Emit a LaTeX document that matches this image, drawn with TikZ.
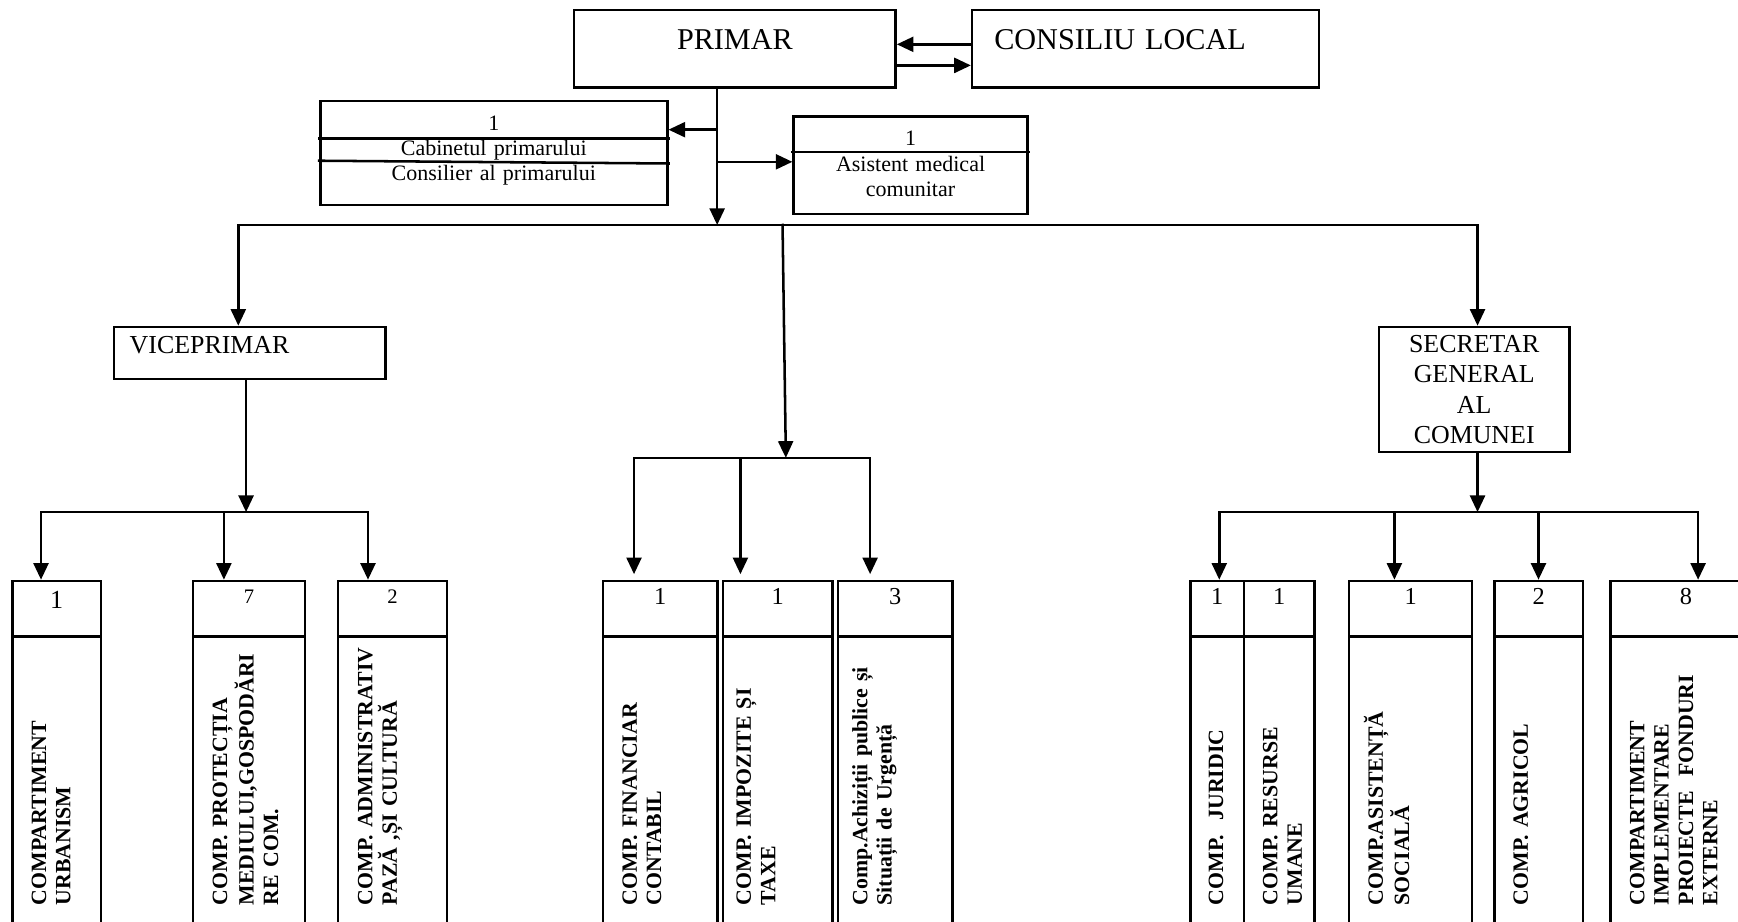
\documentclass[tikz,border=0pt]{standalone}
\usepackage{fontspec}
\setmainfont{Liberation Serif}
\usetikzlibrary{arrows.meta}

\tikzset{
	box/.style = {draw, line width=1.3pt, inner sep=0pt, align=center},
	head/.style = {box, font=\fontsize{15.5}{18}\selectfont, text height=0.72cm, text depth=0.68cm},
	chief/.style = {box, font=\fontsize{13.3}{15.7}\selectfont},
	small/.style = {box, font=\fontsize{11.3}{13}\selectfont},
	unit/.style = {box, anchor=north west, text height=0.42cm, text depth=7.1cm, font=\fontsize{12.5}{14}\selectfont,
		path picture={\draw[line width=1.3pt] ([yshift=-1cm]path picture bounding box.north west) -- ([yshift=-1cm]path picture bounding box.north east);}},
	vtext/.style = {rotate=90, anchor=base west, inner sep=0pt, text width=6cm, align=left, font=\bfseries\fontsize{11.2}{12.5}\selectfont},
	link/.style = {line width=1.3pt, line cap=rect},
	arr/.style = {link, -{Triangle[length=0.3cm, width=0.27cm]}}
}

\begin{document}
\begin{tikzpicture}[x=0.02cm, y=-0.02cm]
	\useasboundingbox (0,0) rectangle (1568,831);
	\clip (0,0) rectangle (1568,831);

	\node[head, text width=5.8cm] (primar) at (663,44) {PRIMAR};
	\node[head, text width=5.46cm, inner xsep=0.4cm, align=left] (cons) at (1033.5,44) {CONSILIU LOCAL};
	\node[small, text width=6.26cm, text height=0.53cm, text depth=1.35cm] (cab) at (445.5,138) {1\\Cabinetul primarului\\Consilier al primarului};
	\node[small, text width=4.22cm, text height=0.53cm, text depth=1.23cm] (asist) at (821.5,149) {1\\Asistent medical\\comunitar};
	\node[chief, text width=4.34cm, inner xsep=0.28cm, align=left, text height=0.47cm, text depth=0.47cm] (vice) at (225.5,318.5) {VICEPRIMAR};
	\node[chief, text width=3.44cm, minimum height=2.26cm] (secr) at (1330,351.5) {SECRETAR\\GENERAL\\AL\\COMUNEI};

	\node[unit, text width=1.6cm, text height=0.5cm, font=\fontsize{13.4}{15}\selectfont] (urb) at (10,523) {1};
	\node[unit, text width=2.02cm, text height=0.4cm, font=\fontsize{10.6}{12}\selectfont] (prot) at (173,523) {7};
	\node[unit, text width=1.96cm, text height=0.4cm, font=\fontsize{10.6}{12}\selectfont] (adm) at (304,523) {2};
	\node[unit, text width=2.06cm] (fin) at (543,523) {1};
	\node[unit, text width=1.98cm] (tax) at (651,523) {1};
	\node[unit, text width=2.06cm] (achiz) at (755,523) {3};
	\node[unit, text width=0.96cm] (jur) at (1073,523) {1};
	\node[unit, text width=1.28cm] (rum) at (1121,523) {1};
	\node[unit, text width=2.22cm] (soc) at (1216,523) {1};
	\node[unit, text width=1.6cm] (agr) at (1347,523) {2};
	\node[unit, text width=2.72cm] (fond) at (1452,523) {8};

	\node[vtext] (urbt) at (41.5,817) {COMPARTIMENT\\URBANISM};
	\node[vtext] (prott) at (205,817) {COMP. PROTECȚIA\\MEDIULUI,GOSPODĂRI\\RE COM.};
	\node[vtext] (admt) at (336,817) {COMP. ADMINISTRATIV\\PAZĂ ,ȘI CULTURĂ};
	\node[vtext] (fint) at (574.5,817) {COMP. FINANCIAR\\CONTABIL};
	\node[vtext] (taxt) at (677.5,817) {COMP. IMPOZITE ȘI\\TAXE};
	\node[vtext] (achizt) at (782.5,817) {Comp.Achiziții publice și\\Situații de Urgență};
	\node[vtext] (jurt) at (1103.5,817) {COMP.~~JURIDIC};
	\node[vtext] (rumt) at (1152.5,817) {COMP. RESURSE\\UMANE};
	\node[vtext] (soct) at (1247.5,817) {COMP.ASISTENȚĂ\\SOCIALĂ};
	\node[vtext] (agrt) at (1378.5,817) {COMP. AGRICOL};
	\node[vtext] (fondt) at (1483.5,817) {COMPARTIMENT\\IMPLEMENTARE\\PROIECTE~~FONDURI\\EXTERNE};

	\draw[link] (cab.west |- 0,125) -- (cab.east |- 0,125);
	\draw[link] (cab.west |- 0,145) -- (cab.east |- 0,147.5);
	\draw[link] (asist.west |- 0,137) -- (asist.east |- 0,137);

	\draw[arr] (cons.west |- 0,40) -- (primar.east |- 0,40);
	\draw[arr] (primar.east |- 0,59) -- (cons.west |- 0,59);

	\coordinate (trunk) at (647,203);
	\draw[arr] (primar.south -| trunk) -- (trunk);
	\draw[arr] (trunk |- 0,117) -- (cab.east |- 0,117);
	\draw[arr] (trunk |- 0,146) -- (asist.west |- 0,146);

	\coordinate (busl) at (215,203);
	\coordinate (busr) at (1333,203);
	\coordinate (busm) at (706,203);
	\draw[link] (busl) -- (busr);
	\draw[arr] (busl) -- (vice.north -| busl);
	\draw[arr] (busr) -- (secr.north -| busr);

	\coordinate (midbus) at (709,413);
	\draw[arr] (busm) -- (midbus);
	\draw[link] (midbus -| 572,0) -- (midbus -| 785,0);
	\draw[arr, shorten >=0.1cm] (midbus -| 572,0) -- (fin.north -| 572,0);
	\draw[arr, shorten >=0.1cm] (midbus -| 668,0) -- (tax.north -| 668,0);
	\draw[arr, shorten >=0.1cm] (midbus -| 785,0) -- (achiz.north -| 785,0);

	\coordinate (vbus) at (222,462);
	\draw[arr] (vice.south -| vbus) -- (vbus);
	\draw[link] (vbus -| 37,0) -- (vbus -| 332,0);
	\draw[arr] (vbus -| 37,0) -- (urb.north -| 37,0);
	\draw[arr] (vbus -| 202,0) -- (prot.north -| 202,0);
	\draw[arr] (vbus -| 332,0) -- (adm.north -| 332,0);

	\coordinate (sbus) at (1333,462);
	\draw[arr] (secr.south -| sbus) -- (sbus);
	\draw[link] (sbus -| 1100,0) -- (sbus -| 1532,0);
	\draw[arr] (sbus -| 1100,0) -- (jur.north -| 1100,0);
	\draw[arr] (sbus -| 1258,0) -- (soc.north -| 1258,0);
	\draw[arr] (sbus -| 1388,0) -- (agr.north -| 1388,0);
	\draw[arr] (sbus -| 1532,0) -- (fond.north -| 1532,0);
\end{tikzpicture}
\end{document}
